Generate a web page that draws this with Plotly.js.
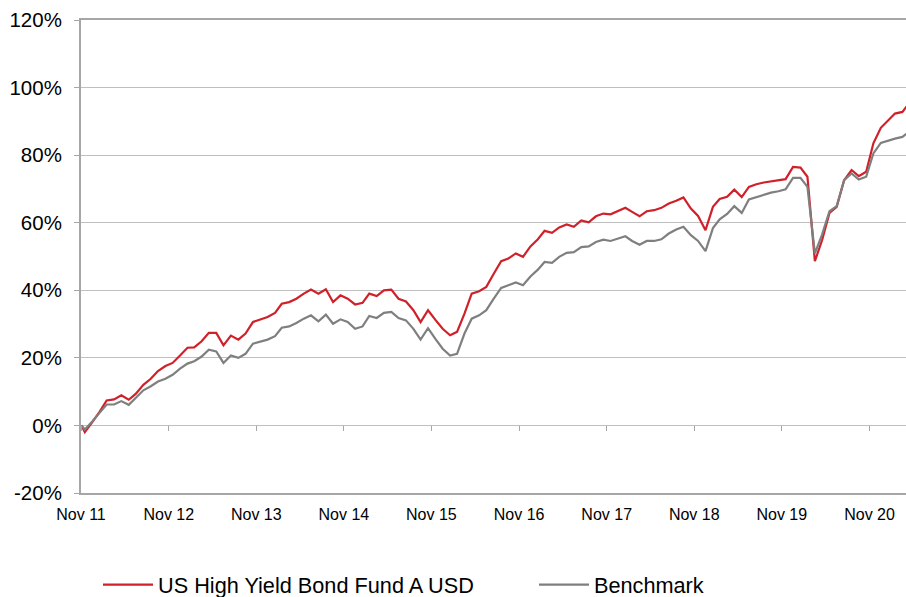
<!DOCTYPE html>
<html>
<head>
<meta charset="utf-8">
<script src="https://cdn.plot.ly/plotly-3.0.1.min.js"></script>
<style>
html, body { margin: 0; padding: 0; background: #ffffff; }
#chart { width: 906px; height: 597px; }
</style>
</head>
<body>
<div id="chart"></div>
<script>
// Series names
const seriesNames = ["US High Yield Bond Fund A USD", "Benchmark"];

// Inception date, then month-end observations from Nov 2011 to Apr 2021
const inceptionDate = "2011-11-16";
const firstMonth = { year: 2011, month: 11 };
const lastMonth = { year: 2021, month: 4 };

// Cumulative performance (%) – fund
const fundValues = [
  0,
  -2.0, 1.0, 4.1, 7.4, 7.7, 8.9, 7.6, 9.4, 12.0, 13.8, 16.1, 17.6,
  18.5, 20.7, 23.0, 23.1, 24.9, 27.4, 27.4, 23.7, 26.6, 25.4, 27.2, 30.6,
  31.3, 32.1, 33.3, 36.0, 36.5, 37.5, 39.0, 40.2, 39.0, 40.3, 36.5, 38.5,
  37.5, 35.8, 36.3, 39.0, 38.3, 40.0, 40.2, 37.5, 36.7, 34.1, 30.6, 34.1,
  31.3, 28.6, 26.7, 27.7, 33.1, 39.0, 39.7, 41.0, 44.9, 48.6, 49.4, 50.9,
  49.9, 53.0, 55.1, 57.6, 57.0, 58.6, 59.5, 58.8, 60.7, 60.1, 61.9, 62.7,
  62.5, 63.4, 64.4, 63.2, 61.9, 63.4, 63.7, 64.4, 65.7, 66.5, 67.5, 64.2,
  62.0, 57.8, 64.7, 67.0, 67.7, 69.8, 67.6, 70.6, 71.4, 71.9, 72.2, 72.5,
  72.9, 76.5, 76.3, 73.6, 48.6, 54.8, 62.9, 64.7, 72.6, 75.6, 73.8, 75.1,
  83.5, 88.1, 90.2, 92.3, 92.8, 95.5
];

// Cumulative performance (%) – benchmark
const benchmarkValues = [
  0,
  -1.2, 1.2, 3.8, 6.2, 6.2, 7.2, 6.1, 8.2, 10.4, 11.6, 13.0, 13.8,
  15.0, 16.8, 18.3, 19.0, 20.4, 22.4, 21.9, 18.5, 20.7, 20.0, 21.2, 24.2,
  24.7, 25.4, 26.4, 28.9, 29.3, 30.3, 31.6, 32.6, 30.8, 32.8, 30.1, 31.4,
  30.6, 28.6, 29.3, 32.4, 31.8, 33.3, 33.6, 31.8, 31.1, 28.6, 25.4, 28.8,
  25.7, 22.7, 20.7, 21.2, 27.2, 31.6, 32.6, 34.1, 37.5, 40.7, 41.5, 42.3,
  41.5, 44.1, 46.1, 48.4, 48.1, 49.9, 51.1, 51.3, 52.8, 53.0, 54.3, 55.0,
  54.6, 55.2, 56.0, 54.6, 53.5, 54.6, 54.6, 55.1, 56.8, 58.0, 58.8, 56.3,
  54.6, 51.6, 58.4, 61.0, 62.6, 64.9, 62.9, 66.9, 67.6, 68.3, 68.9, 69.3,
  69.9, 73.3, 73.3, 70.6, 50.9, 56.5, 63.4, 64.9, 72.6, 74.6, 72.8, 73.6,
  80.5, 83.6, 84.4, 84.9, 85.4, 87.0
];

// Y axis ticks
const yTickValues = [-20, 0, 20, 40, 60, 80, 100, 120];
const yTickLabels = ["-20%", "0%", "20%", "40%", "60%", "80%", "100%", "120%"];

// Build the date list: inception, then month ends
function monthEnd(y, m) {
  const d = new Date(Date.UTC(y, m, 0));
  return d.toISOString().slice(0, 10);
}
const dates = [inceptionDate];
{
  let y = firstMonth.year, m = firstMonth.month;
  while (y < lastMonth.year || (y === lastMonth.year && m <= lastMonth.month)) {
    dates.push(monthEnd(y, m));
    m++; if (m > 12) { m = 1; y++; }
  }
}

const FONT = "Arial, 'Liberation Sans', sans-serif";
const axisGrey = "#a6a6a6";

const traces = [
  {
    x: dates, y: fundValues, name: seriesNames[0], type: "scatter", mode: "lines",
    line: { color: "#d0202a", width: 2.2 }, hoverinfo: "x+y", legend: "legend"
  },
  {
    x: dates, y: benchmarkValues, name: seriesNames[1], type: "scatter", mode: "lines",
    line: { color: "#7f7f7f", width: 2.2 }, hoverinfo: "x+y", legend: "legend2"
  },
  // empty helper trace so the tick-only axis at the 0% line is drawn
  {
    x: [dates[0]], y: [null], xaxis: "x2", yaxis: "y", type: "scatter", mode: "lines",
    showlegend: false, hoverinfo: "skip"
  }
];

const xTickStart = "2011-11-14";

const legendCommon = {
  orientation: "h",
  xref: "container", yref: "container",
  y: 12 / 597, xanchor: "left", yanchor: "middle",
  font: { family: FONT, size: 21.7, color: "#000000" },
  itemwidth: 50, bgcolor: "rgba(0,0,0,0)"
};

const layout = {
  width: 906, height: 597,
  margin: { l: 81, r: 0, t: 20, b: 104, pad: 0, autoexpand: false },
  paper_bgcolor: "#ffffff", plot_bgcolor: "#ffffff",
  font: { family: FONT, color: "#000000" },
  showlegend: true,
  legend: Object.assign({}, legendCommon, { x: 98 / 906 }),
  legend2: Object.assign({}, legendCommon, { x: 534 / 906 }),
  xaxis: {
    type: "date",
    range: ["2011-11-14", "2021-04-15"],
    tick0: xTickStart, dtick: "M12", tickformat: "%b %y",
    ticks: "", showgrid: false, zeroline: false,
    showline: true, linecolor: axisGrey, linewidth: 2, mirror: true,
    tickfont: { family: FONT, size: 16, color: "#000000" },
    ticklabelstandoff: 6
  },
  xaxis2: {
    type: "date", overlaying: "x", matches: "x", anchor: "free",
    position: 20 / 140,
    tick0: xTickStart, dtick: "M12",
    ticks: "outside", ticklen: 5, tickwidth: 1, tickcolor: axisGrey,
    showticklabels: false, showgrid: false, showline: false, zeroline: false
  },
  yaxis: {
    range: [-20, 120],
    tickmode: "array", tickvals: yTickValues, ticktext: yTickLabels,
    ticks: "outside", ticklen: 5, tickcolor: axisGrey, tickwidth: 1,
    showgrid: true, gridcolor: "#bfbfbf", gridwidth: 1, zeroline: false,
    showline: true, linecolor: axisGrey, linewidth: 2,
    tickfont: { family: FONT, size: 20.5, color: "#000000" },
    ticklabelstandoff: 8
  }
};

Plotly.newPlot("chart", traces, layout, { displayModeBar: false, staticPlot: true });
</script>
</body>
</html>
